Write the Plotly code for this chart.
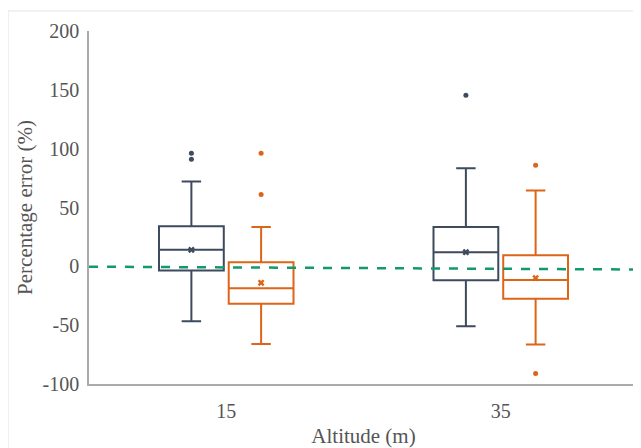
import plotly.graph_objects as go

categories = ["15", "35"]
series_names = ["Series A", "Series B"]
colors = ["#3e4a5d", "#dd6518"]

# precomputed box stats per series, per category
q1 = {"Series A": [-3.6, -11.8], "Series B": [-31.8, -27.6]}
median = {"Series A": [14.0, 12.0], "Series B": [-18.6, -11.6]}
q3 = {"Series A": [34.0, 33.5], "Series B": [3.4, 9.5]}
lowerfence = {"Series A": [-46.7, -50.9], "Series B": [-66.0, -66.4]}
upperfence = {"Series A": [72.0, 83.3], "Series B": [33.5, 64.4]}
means = {"Series A": [14.0, 12.0], "Series B": [-14.0, -10.0]}
outliers = {
    "Series A": [[96.2, 90.9], [145.4]],
    "Series B": [[96.0, 61.0], [86.0, -91.0]],
}
trend_x = [-0.5, 1.5]
trend_y = [-0.3, -2.7]
y_ticks = [-100, -50, 0, 50, 100, 150, 200]
y_ticktext = ["-100", "-50", "0", "50", "100", "150", "200"]

group_offset = 0.127
box_width = 0.236

fig = go.Figure()
for si, name in enumerate(series_names):
    off = (si - 0.5) * 2 * group_offset
    xs = [i + off for i in range(len(categories))]
    fig.add_trace(go.Box(
        x=xs, q1=q1[name], median=median[name], q3=q3[name],
        lowerfence=lowerfence[name], upperfence=upperfence[name],
        width=box_width, whiskerwidth=0.3,
        line=dict(color=colors[si], width=2), fillcolor="rgba(255,255,255,0)",
        boxpoints=False, name=name, showlegend=False, hoverinfo="skip",
    ))
    fig.add_trace(go.Scatter(
        x=xs, y=means[name], mode="markers",
        marker=dict(symbol="x", size=6, color=colors[si]), showlegend=False,
    ))
    ox, oy = [], []
    for ci, vals in enumerate(outliers[name]):
        for v in vals:
            ox.append(ci + off)
            oy.append(v)
    fig.add_trace(go.Scatter(
        x=ox, y=oy, mode="markers",
        marker=dict(symbol="circle", size=5, color=colors[si]), showlegend=False,
    ))

fig.add_trace(go.Scatter(
    x=trend_x, y=trend_y, mode="lines",
    line=dict(color="#129a6c", width=2.5, dash="dash"), showlegend=False,
))

fig.add_shape(type="line", xref="paper", yref="paper", x0=-0.1475, x1=1.01, y0=1.057, y1=1.057,
              line=dict(color="#ececec", width=1.5))
fig.add_shape(type="line", xref="paper", yref="paper", x0=-0.1475, x1=-0.1475, y0=1.057, y1=-0.2,
              line=dict(color="#ececec", width=1.5))

font = "Times New Roman, Liberation Serif, DejaVu Serif, serif"
fig.update_layout(
    width=633, height=440,
    margin=dict(l=81, r=3, t=23, b=64, autoexpand=False),
    paper_bgcolor="white", plot_bgcolor="white",
    font=dict(family=font, size=20, color="#555555"),
    xaxis=dict(range=[-0.5, 1.5], tickvals=[0, 1], ticktext=categories, automargin=False,
               showgrid=False, zeroline=False, showline=True, linecolor="#aaaaaa", linewidth=1.5,
               ticks="outside", ticklen=8, tickcolor="rgba(0,0,0,0)",
               title=dict(text="Altitude (m)", font=dict(size=21), standoff=10)),
    yaxis=dict(range=[-100, 200], tickvals=y_ticks, ticktext=y_ticktext, automargin=False,
               showgrid=False, zeroline=False, showline=True, linecolor="#aaaaaa", linewidth=1.5,
               ticks="outside", ticklen=4, tickcolor="rgba(0,0,0,0)",
               title=dict(text="Percentage error (%)", font=dict(size=21), standoff=4)),
    showlegend=False,
)
fig.write_html("out.html")
